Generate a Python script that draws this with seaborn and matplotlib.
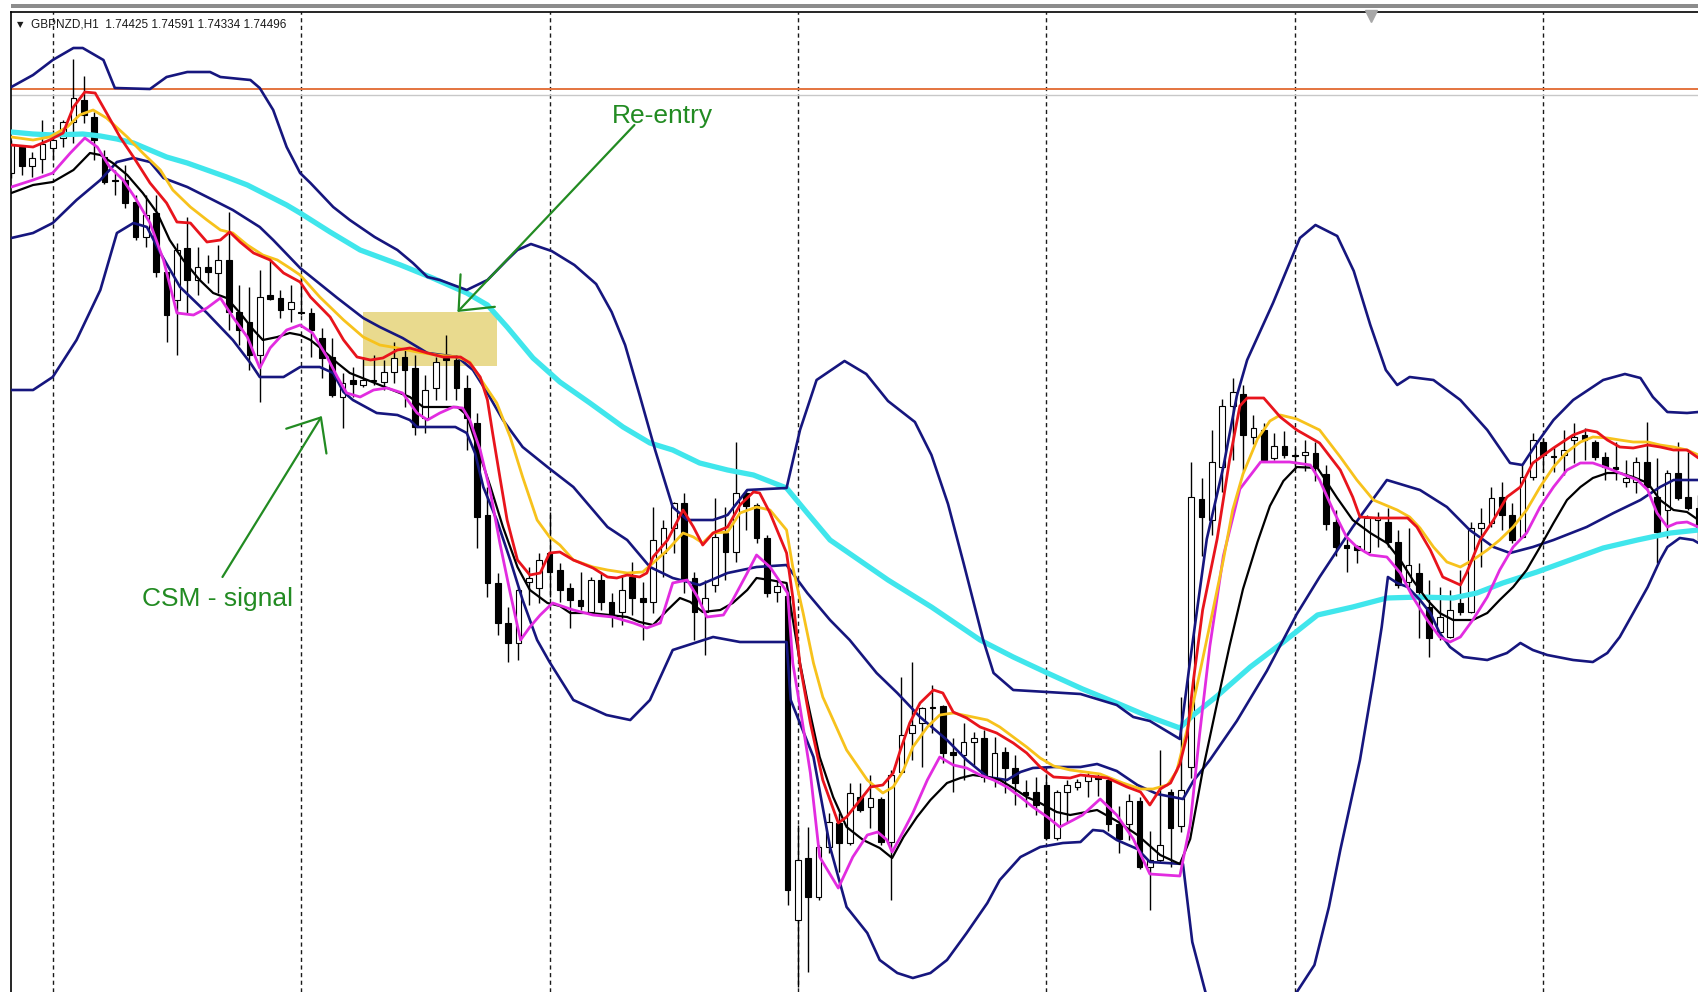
import numpy as np
import pandas as pd
import matplotlib
matplotlib.use("Agg")
import matplotlib.pyplot as plt
from matplotlib.patches import Rectangle
import seaborn as sns

# GBPNZD H1 - levels are read off the chart as points below the top of the
# price scale (bigger number = lower price), so the y axis is inverted.
OPEN = [173, 147, 166, 159, 148, 138, 122, 100, 117, 157,
        180, 180, 202, 237, 213, 272, 300, 248, 280, 267,
        273, 260, 312, 322, 355, 295, 298, 309, 312, 313,
        338, 357, 397, 380, 385, 381, 382, 372, 357, 368,
        418, 388, 358, 360, 388, 423, 515, 583, 623, 643,
        582, 588, 553, 570, 588, 600, 612, 580, 602, 612,
        577, 598, 602, 553, 528, 503, 578, 612, 585, 533,
        552, 493, 505, 538, 592, 596, 920, 858, 897, 847,
        823, 843, 797, 807, 799, 842, 772, 733, 723, 707,
        706, 752, 755, 742, 738, 778, 752, 768, 792, 792,
        785, 838, 792, 787, 781, 776, 780, 824, 824, 801,
        867, 860, 792, 826, 767, 499, 520, 467, 406, 394,
        437, 430, 458, 446, 455, 455, 453, 474, 522, 545,
        546, 552, 520, 522, 542, 582, 573, 607, 632, 637,
        603, 612, 528, 523, 497, 515, 537, 477, 442, 456,
        455, 440, 435, 442, 457, 467, 482, 482, 462, 497,
        510, 473, 497, 508]
HIGH = [140, 145, 152, 120, 130, 120, 59, 76, 112, 150,
        170, 165, 195, 195, 195, 272, 243, 217, 247, 255,
        245, 212, 285, 287, 270, 260, 290, 285, 277, 308,
        328, 338, 373, 367, 357, 355, 360, 342, 350, 355,
        375, 357, 335, 355, 375, 413, 487, 573, 607, 588,
        567, 553, 512, 563, 583, 572, 577, 573, 593, 575,
        562, 582, 507, 520, 502, 493, 572, 580, 498, 507,
        442, 490, 503, 535, 580, 590, 825, 827, 845, 813,
        813, 783, 783, 775, 797, 770, 677, 662, 707, 685,
        705, 738, 723, 732, 730, 737, 747, 755, 780, 777,
        775, 790, 780, 779, 771, 774, 778, 806, 794, 797,
        831, 750, 789, 697, 462, 478, 430, 399, 378, 385,
        415, 423, 433, 431, 447, 440, 442, 465, 510, 537,
        545, 515, 512, 508, 530, 528, 563, 580, 587, 590,
        570, 522, 508, 487, 482, 503, 465, 433, 438, 447,
        430, 423, 428, 440, 452, 442, 460, 457, 422, 458,
        470, 442, 452, 495]
LOW = [178, 175, 177, 173, 160, 147, 143, 123, 160, 184,
       195, 208, 240, 247, 277, 342, 355, 313, 295, 283,
       293, 330, 345, 370, 402, 300, 318, 322, 315, 357,
       378, 397, 428, 397, 387, 385, 390, 383, 407, 435,
       433, 400, 400, 400, 450, 548, 597, 635, 662, 660,
       605, 603, 597, 602, 628, 610, 613, 610, 627, 625,
       615, 640, 613, 577, 553, 593, 640, 655, 592, 580,
       562, 530, 543, 597, 602, 905, 987, 972, 900, 853,
       872, 845, 812, 828, 845, 900, 773, 760, 767, 733,
       763, 792, 780, 765, 782, 787, 793, 805, 807, 815,
       840, 840, 822, 790, 797, 796, 831, 853, 840, 869,
       910, 862, 867, 832, 778, 556, 535, 492, 460, 471,
       444, 462, 460, 458, 468, 471, 481, 530, 556, 572,
       563, 553, 547, 547, 588, 587, 638, 657, 640, 638,
       615, 613, 567, 527, 530, 543, 538, 480, 472, 472,
       475, 463, 460, 460, 480, 480, 487, 493, 490, 563,
       538, 500, 510, 540]
CLOSE = [145, 166, 158, 144, 140, 122, 98, 115, 140, 182,
         181, 203, 237, 215, 272, 315, 250, 280, 267, 272,
         260, 312, 330, 355, 297, 299, 310, 302, 313, 330,
         358, 395, 383, 384, 380, 380, 372, 358, 370, 427,
         390, 362, 360, 388, 418, 517, 583, 623, 643, 590,
         578, 560, 572, 590, 600, 606, 580, 602, 615, 590,
         598, 602, 540, 528, 503, 580, 612, 598, 537, 552,
         493, 506, 538, 593, 586, 890, 860, 897, 847, 822,
         843, 793, 810, 798, 842, 775, 735, 725, 708, 708,
         753, 755, 742, 738, 777, 753, 768, 783, 795, 805,
         838, 792, 785, 782, 776, 779, 824, 839, 801, 867,
         860, 845, 828, 790, 497, 517, 462, 406, 392, 435,
         428, 460, 446, 455, 456, 452, 467, 524, 547, 548,
         550, 518, 518, 542, 585, 565, 592, 638, 617, 610,
         612, 528, 523, 498, 515, 540, 477, 440, 455, 457,
         450, 437, 440, 457, 467, 469, 478, 462, 487, 532,
         473, 498, 508, 530]

# indicator lines: (bar, level)
MA_RED = [(0, 145), (2.1, 147), (3.7, 140), (5.0, 133), (6.0, 107), (7.1, 92), (8.1, 93),
          (9.2, 113), (10.5, 137), (11.8, 157), (13.4, 183), (15.0, 203), (16.0, 222),
          (17.3, 223), (18.9, 242), (20.2, 240), (21.1, 232), (22.1, 242), (23.4, 253),
          (25.0, 260), (26.3, 273), (27.9, 282), (28.9, 297), (30.8, 317), (32.1, 340),
          (33.4, 357), (34.7, 360), (35.9, 358), (37.3, 350), (38.5, 348), (40.2, 353),
          (41.7, 357), (43.4, 357), (44.3, 363), (45.3, 377), (46.0, 400), (46.5, 433),
          (47.2, 477), (47.9, 520), (48.9, 560), (50.1, 575), (51.1, 573), (52.0, 553),
          (53.0, 552), (54.3, 560), (56.2, 568), (57.6, 577), (58.5, 578), (59.5, 575),
          (60.7, 577), (61.4, 573), (62.0, 557), (63.4, 540), (64.9, 510), (65.9, 527),
          (66.8, 545), (67.8, 533), (69.2, 527), (70.4, 505), (71.7, 492), (72.3, 493),
          (73.3, 513), (74.9, 553), (75.5, 597), (76.2, 665), (77.2, 723), (78.4, 780),
          (79.9, 823), (80.7, 817), (82.0, 800), (83.0, 787), (84.2, 785), (85.2, 773),
          (85.9, 750), (86.8, 723), (87.8, 703), (89.1, 690), (90.0, 693), (91.0, 712),
          (92.3, 718), (93.6, 727), (95.2, 733), (96.8, 743), (98.1, 753), (99.4, 767),
          (100.7, 777), (102.3, 778), (103.3, 775), (104.2, 776), (105.9, 778), (107.8, 787),
          (109.1, 792), (110.0, 805), (111.0, 789), (112.0, 783), (112.9, 764), (113.6, 735),
          (114.2, 681), (115.1, 610), (116.5, 539), (117.7, 460), (118.7, 406), (119.4, 398),
          (121.0, 398), (122.6, 417), (124.2, 430), (126.4, 443), (128.4, 470), (129.6, 497),
          (130.3, 517), (131.9, 518), (134.9, 518), (135.8, 527), (137.1, 550), (138.3, 577),
          (140.0, 585), (140.6, 573), (141.9, 540), (143.2, 520), (144.5, 497), (145.8, 487),
          (147.0, 463), (149.0, 448), (150.9, 435), (152.2, 430), (153.2, 432), (154.2, 440),
          (155.4, 447), (156.7, 448), (158.1, 445), (159.3, 447), (160.6, 450), (161.9, 450),
          (163.0, 458)]
MA_GOLD = [(0, 137), (2.1, 140), (3.7, 137), (5.4, 127), (6.6, 115), (7.9, 110), (9.2, 118),
           (11.2, 137), (12.7, 153), (14.4, 170), (15.6, 190), (17.3, 207), (18.9, 220),
           (20.2, 230), (21.4, 233), (22.8, 245), (24.3, 255), (25.7, 260), (26.9, 268),
           (27.9, 275), (29.8, 297), (32.1, 320), (34.0, 337), (35.6, 345), (37.3, 348),
           (39.2, 352), (41.1, 355), (43.1, 357), (44.3, 362), (45.6, 383), (46.9, 403),
           (48.2, 437), (49.4, 477), (50.8, 520), (52.0, 537), (53.0, 545), (54.3, 560),
           (56.2, 567), (57.6, 570), (59.5, 573), (61.0, 572), (62.0, 563), (63.4, 550),
           (64.9, 533), (65.9, 537), (66.8, 543), (67.8, 533), (69.2, 532), (70.4, 513),
           (72.0, 507), (73.3, 510), (74.9, 530), (75.5, 567), (76.5, 613), (77.5, 663),
           (78.4, 697), (79.1, 713), (80.7, 750), (82.7, 780), (84.2, 793), (85.2, 787),
           (86.2, 770), (87.1, 747), (88.5, 727), (89.7, 715), (91.0, 713), (92.9, 717),
           (94.3, 720), (95.5, 727), (96.8, 737), (98.1, 747), (99.4, 758), (100.7, 766),
           (102.3, 770), (105.2, 774), (107.4, 783), (109.1, 789), (110.3, 789), (111.7, 785),
           (112.6, 771), (113.2, 746), (113.9, 717), (114.8, 674), (116.1, 610), (117.1, 560),
           (118.0, 510), (119.0, 474), (120.4, 439), (121.6, 421), (122.6, 415), (124.2, 419),
           (126.4, 430), (128.4, 457), (130.0, 480), (131.6, 500), (133.9, 510), (135.1, 517),
           (136.1, 528), (137.4, 547), (138.7, 562), (140.0, 567), (141.2, 560), (142.6, 550),
           (143.8, 540), (145.1, 527), (146.4, 510), (147.7, 487), (149.0, 467), (150.3, 452),
           (151.6, 442), (152.8, 437), (154.2, 438), (155.4, 440), (156.7, 442), (158.1, 442),
           (159.3, 445), (160.6, 447), (161.9, 450), (163.0, 455)]
MA_MAGENTA = [(0, 187), (2.1, 180), (4.0, 173), (5.7, 153), (7.1, 138), (8.3, 147), (9.5, 167),
              (10.8, 180), (12.1, 200), (13.4, 223), (14.7, 260), (16.0, 313), (17.6, 315),
              (18.9, 308), (20.2, 298), (21.4, 317), (22.8, 337), (24.0, 368), (25.0, 348),
              (26.6, 330), (27.9, 325), (29.1, 333), (30.5, 357), (31.5, 377), (32.4, 393),
              (33.7, 397), (35.0, 390), (36.3, 388), (37.8, 393), (39.2, 413), (40.2, 420),
              (41.4, 413), (42.7, 407), (43.6, 408), (44.3, 420), (45.3, 450), (46.3, 493),
              (47.2, 543), (48.2, 593), (49.2, 640), (50.1, 627), (51.1, 615), (52.3, 603),
              (54.3, 610), (56.2, 615), (58.1, 617), (60.1, 623), (61.4, 628), (62.7, 623),
              (63.9, 583), (65.3, 580), (66.3, 597), (67.2, 617), (68.8, 615), (69.7, 600),
              (71.1, 573), (72.0, 555), (73.3, 567), (74.6, 587), (75.0, 593), (75.5, 663),
              (76.2, 707), (77.2, 773), (78.1, 857), (79.9, 888), (81.3, 857), (82.7, 835),
              (83.7, 832), (84.6, 840), (85.1, 852), (85.9, 837), (87.1, 813), (88.5, 780),
              (89.7, 757), (91.0, 765), (92.3, 768), (93.6, 775), (94.9, 780), (96.2, 787),
              (97.5, 797), (98.7, 807), (100.1, 817), (101.3, 827), (102.6, 820), (103.5, 815),
              (105.2, 799), (106.8, 815), (108.4, 839), (110.0, 874), (112.9, 876), (113.9, 824),
              (114.8, 735), (115.8, 646), (117.1, 556), (118.7, 489), (120.7, 462), (123.5, 462),
              (125.5, 465), (126.4, 480), (127.7, 510), (129.0, 537), (130.0, 547), (131.3, 555),
              (132.9, 557), (134.2, 573), (135.4, 597), (136.8, 620), (138.0, 637), (139.0, 642),
              (140.0, 637), (141.2, 620), (142.6, 597), (143.8, 570), (145.1, 547), (146.4, 533),
              (147.7, 507), (149.0, 487), (150.3, 470), (151.6, 463), (152.8, 463), (154.2, 468),
              (155.4, 473), (157.1, 480), (158.1, 490), (159.0, 513), (160.0, 527), (160.9, 523),
              (161.9, 522), (163.0, 527)]
MA_BLACK = [(0, 193), (2.1, 185), (4.0, 182), (6.0, 170), (7.6, 153), (8.6, 155), (9.8, 163),
            (11.2, 175), (12.7, 193), (14.1, 213), (15.3, 240), (16.6, 260), (18.2, 280),
            (19.5, 293), (20.8, 298), (22.1, 313), (23.4, 330), (24.3, 340), (25.7, 337),
            (26.9, 333), (27.9, 335), (28.9, 340), (30.1, 350), (31.5, 363), (32.7, 373),
            (34.4, 380), (35.6, 385), (37.3, 392), (38.5, 397), (39.8, 407), (41.1, 407),
            (43.1, 407), (44.0, 415), (45.0, 447), (46.3, 487), (47.5, 527), (48.9, 567),
            (50.1, 590), (51.8, 603), (53.0, 606), (54.0, 613), (55.9, 613), (57.8, 615),
            (59.5, 617), (60.7, 622), (62.0, 625), (63.4, 610), (64.6, 598), (65.6, 602),
            (66.8, 612), (68.5, 610), (69.7, 603), (71.1, 590), (72.0, 578), (73.3, 580),
            (74.9, 583), (75.4, 613), (76.2, 663), (76.9, 700), (78.1, 757), (79.4, 797),
            (80.7, 827), (82.3, 840), (83.9, 848), (85.1, 858), (86.2, 837), (87.5, 817),
            (88.8, 800), (90.4, 783), (91.7, 778), (92.9, 775), (94.3, 777), (95.5, 780),
            (96.8, 788), (98.1, 797), (99.4, 803), (101.0, 812), (102.3, 815), (104.9, 810),
            (106.8, 821), (108.8, 835), (111.0, 855), (112.9, 864), (113.9, 839), (115.1, 771),
            (116.5, 703), (117.7, 646), (119.0, 589), (120.4, 542), (121.6, 506), (122.9, 481),
            (124.2, 467), (126.2, 468), (128.1, 498), (129.6, 520), (131.3, 533), (132.9, 543),
            (134.2, 560), (135.4, 580), (136.8, 600), (138.0, 613), (139.3, 620), (141.2, 620),
            (142.6, 613), (143.8, 600), (145.1, 587), (146.4, 570), (147.7, 547), (149.0, 523),
            (150.3, 500), (151.6, 487), (152.8, 478), (154.2, 473), (155.4, 473), (156.7, 477),
            (158.1, 483), (159.3, 500), (160.6, 510), (161.9, 512), (163.0, 520)]
MA_SLOW = [(0, 132), (2.1, 134), (4.0, 135), (6.9, 134), (8.6, 136), (10.2, 139), (11.8, 143),
           (13.4, 150), (15.0, 157), (17.0, 163), (18.9, 170), (20.8, 177), (22.8, 185),
           (24.7, 195), (26.6, 205), (27.9, 213), (30.8, 232), (33.7, 250), (37.6, 265),
           (40.7, 278), (44.0, 293), (46.0, 305), (47.9, 327), (50.4, 358), (53.0, 382),
           (55.9, 403), (59.1, 427), (61.7, 443), (63.9, 450), (66.5, 463), (69.2, 470),
           (71.7, 475), (74.9, 488), (76.9, 513), (79.1, 540), (84.7, 580), (88.9, 607),
           (93.6, 640), (96.8, 657), (100.1, 673), (103.5, 689), (106.8, 703), (110.0, 717),
           (112.9, 728), (114.2, 715), (116.5, 696), (119.7, 667), (122.9, 642), (126.2, 615),
           (129.6, 607), (132.9, 598), (136.1, 597), (139.3, 598), (141.6, 593), (144.1, 583),
           (147.4, 572), (150.6, 560), (153.8, 548), (157.1, 540), (160.3, 533), (163.0, 530)]
BAND_UPPER = [(0, 87), (2.1, 75), (4.0, 60), (6.0, 48), (6.9, 48), (8.9, 60), (10.0, 88),
              (13.4, 89), (15.0, 77), (17.0, 72), (19.2, 72), (20.2, 77), (23.1, 80), (24.0, 88),
              (25.3, 110), (26.6, 147), (27.9, 173), (28.9, 183), (31.1, 207), (32.7, 220),
              (35.1, 237), (37.3, 250), (38.8, 263), (40.2, 277), (41.4, 280), (44.0, 290),
              (46.0, 280), (47.9, 260), (48.9, 250), (50.2, 244), (52.2, 251), (54.4, 265),
              (56.5, 284), (58.0, 312), (59.3, 345), (60.7, 395), (62.2, 450), (63.9, 507),
              (65.3, 520), (67.8, 520), (69.2, 515), (71.1, 490), (74.9, 488), (76.2, 430),
              (77.8, 380), (80.5, 361), (82.6, 374), (84.7, 401), (87.3, 422), (88.9, 455),
              (90.5, 504), (92.0, 563), (93.9, 640), (94.9, 673), (96.8, 690), (100.1, 692),
              (103.3, 694), (106.8, 705), (108.4, 717), (110.0, 721), (112.9, 739), (113.9, 660),
              (115.5, 539), (117.1, 467), (118.4, 396), (119.4, 360), (121.9, 303), (124.5, 238),
              (126.0, 225), (128.1, 236), (129.7, 271), (131.3, 325), (132.8, 370), (133.9, 385),
              (135.1, 377), (137.4, 380), (140.0, 400), (142.6, 430), (144.8, 463), (146.0, 465),
              (147.4, 443), (149.0, 420), (150.9, 400), (153.8, 380), (155.9, 374), (157.4, 378),
              (158.6, 397), (160.0, 412), (161.9, 413), (163.0, 412)]
BAND_MID = [(0, 238), (2.1, 233), (4.0, 223), (6.3, 200), (8.6, 180), (10.2, 162), (11.8, 158),
            (13.4, 162), (14.7, 178), (17.0, 187), (19.5, 200), (21.4, 210), (24.0, 227),
            (25.3, 240), (27.9, 268), (31.5, 298), (34.0, 318), (35.6, 327), (37.8, 338),
            (40.2, 353), (43.1, 357), (44.6, 370), (46.0, 393), (47.5, 420), (49.4, 447),
            (51.8, 467), (54.3, 487), (57.6, 527), (59.5, 540), (61.7, 567), (63.9, 578),
            (66.5, 585), (69.2, 573), (72.0, 567), (74.9, 565), (76.9, 593), (79.1, 620),
            (81.0, 640), (83.6, 673), (85.6, 693), (87.8, 717), (90.4, 740), (92.3, 760),
            (94.3, 777), (96.2, 780), (97.5, 772), (98.7, 768), (100.7, 767), (103.3, 767),
            (104.9, 764), (106.8, 771), (108.8, 785), (110.7, 794), (113.2, 799), (114.2, 781),
            (115.8, 760), (118.4, 721), (121.3, 671), (124.2, 614), (126.4, 577), (129.6, 527),
            (132.9, 480), (136.1, 490), (138.7, 507), (140.9, 530), (143.2, 547), (144.8, 553),
            (147.0, 547), (149.0, 540), (152.2, 527), (154.8, 513), (157.4, 500), (159.3, 487),
            (160.6, 480), (163.0, 480)]
BAND_LOWER = [(0, 390), (2.1, 390), (4.0, 377), (6.3, 340), (8.6, 290), (10.2, 233), (11.8, 223),
              (13.1, 227), (14.4, 253), (16.3, 287), (18.9, 313), (21.4, 340), (23.1, 363),
              (24.0, 377), (26.3, 377), (27.9, 367), (29.8, 367), (31.1, 373), (32.1, 392),
              (33.0, 400), (35.3, 413), (37.3, 415), (38.5, 420), (39.2, 427), (40.2, 427),
              (42.9, 427), (44.0, 433), (44.8, 453), (45.6, 487), (46.9, 520), (48.2, 560),
              (49.4, 600), (50.8, 640), (52.0, 662), (54.3, 700), (57.5, 715), (59.8, 720),
              (61.7, 700), (63.9, 650), (67.8, 637), (70.4, 642), (74.9, 642), (75.3, 700),
              (77.5, 757), (79.1, 847), (80.7, 907), (82.7, 933), (83.9, 960), (85.6, 973),
              (87.1, 978), (88.8, 973), (90.4, 960), (92.3, 933), (94.3, 903), (95.5, 880),
              (97.5, 857), (99.4, 847), (101.6, 843), (103.3, 842), (104.5, 830), (105.5, 831),
              (106.8, 840), (108.8, 849), (110.0, 862), (113.2, 864), (114.1, 942), (115.9, 1013),
              (119.7, 1060), (123.7, 1000), (125.9, 965), (127.3, 907), (128.4, 850), (130.3, 760),
              (131.6, 680), (132.4, 627), (133.0, 577), (133.9, 583), (134.9, 587), (136.1, 600),
              (137.1, 613), (138.0, 633), (139.0, 647), (140.3, 657), (142.6, 660), (144.5, 653),
              (145.8, 643), (147.0, 650), (148.4, 655), (150.9, 660), (152.8, 662), (154.2, 653),
              (155.4, 637), (156.7, 613), (158.1, 587), (159.3, 560), (160.0, 547), (161.2, 538),
              (162.5, 540), (163.0, 543)]

DAY_STARTS = [4, 28, 52, 76, 100, 124, 148]
ASK_LEVEL = 89
BID_LEVEL = 95
ZONE = (34.0, 46.9, 312, 366)   # bar from, bar to, level top, level bottom

GREEN = "#228B22"
NAVY = "#16167E"

sns.set_theme(style="white")
plt.rcParams["font.family"] = ["Liberation Sans", "DejaVu Sans"]

fig = plt.figure(figsize=(16.98, 9.92), dpi=100)
fig.patch.set_facecolor("white")
ax = fig.add_axes([10.5 / 1698, 0, 1 - 10.5 / 1698, 1 - 12 / 992])
ax.set_facecolor("white")

# window frame strip above the chart
fig.add_artist(Rectangle((10.5 / 1698, 1 - 7.5 / 992), 1, 3 / 992,
                         transform=fig.transFigure, color="#8c8c8c", lw=0))

ax.add_patch(Rectangle((ZONE[0], ZONE[2]), ZONE[1] - ZONE[0], ZONE[3] - ZONE[2],
                       facecolor="#E9DA8E", edgecolor="none", zorder=0.5))

for d in DAY_STARTS:
    ax.axvline(d, color="#1a1a1a", lw=1.0, ls=(0, (3, 2.5)), zorder=1)
ax.axhline(ASK_LEVEL, color="#E4743F", lw=1.4, zorder=1)
ax.axhline(BID_LEVEL, color="#c8c8c8", lw=1.0, zorder=1)

# candles
o, h, l, c = (np.array(v, dtype=float) for v in (OPEN, HIGH, LOW, CLOSE))
bars = np.arange(len(o))
ax.vlines(bars, h, l, color="black", lw=1.0, zorder=2)
bull = c < o
body_top = np.minimum(o, c)
body_h = np.maximum(np.abs(c - o), 1.3)
ax.bar(bars, body_h, bottom=body_top, width=0.55,
       color=np.where(bull, "white", "black"), edgecolor="black",
       linewidth=0.8, zorder=2.5)


def draw_line(points, color, lw, z):
    df = pd.DataFrame(points, columns=["bar", "level"])
    sns.lineplot(data=df, x="bar", y="level", color=color, linewidth=lw,
                 sort=False, estimator=None, ax=ax, zorder=z, legend=False)


draw_line(MA_SLOW, "#40E6EC", 3.8, 3)
draw_line(BAND_UPPER, NAVY, 1.9, 3.2)
draw_line(BAND_MID, NAVY, 1.9, 3.2)
draw_line(BAND_LOWER, NAVY, 1.9, 3.2)
draw_line(MA_BLACK, "black", 1.6, 3.4)
draw_line(MA_MAGENTA, "#E22CE0", 2.0, 3.5)
draw_line(MA_GOLD, "#F7C21C", 2.0, 3.6)
draw_line(MA_RED, "#E8141C", 2.0, 3.7)

# annotations
ax.text(58.0, 123, "Re-entry", color=GREEN, fontsize=19, ha="left", va="baseline", zorder=5)
ax.text(12.6, 606, "CSM - signal", color=GREEN, fontsize=19, ha="left", va="baseline", zorder=5)
arrow = dict(arrowstyle="->,head_length=1.0,head_width=0.85", color=GREEN, lw=1.6,
             mutation_scale=20, shrinkA=0, shrinkB=0)
ax.annotate("", xy=(43.1, 312), xytext=(60.2, 125), arrowprops=arrow, zorder=5)
ax.annotate("", xy=(30.0, 416), xytext=(20.4, 577), arrowprops=arrow, zorder=5)

# header
ax.text(0.84, 25, "▼", fontsize=6, color="#1a1a1a", ha="center", va="center",
        family=["DejaVu Sans"], zorder=6)
ax.text(1.9, 25, "GBPNZD,H1  1.74425 1.74591 1.74334 1.74496", fontsize=8.5,
        color="#1a1a1a", ha="left", va="center", zorder=6)
ax.plot([131.4], [16], marker="v", color="#a8a8a8", markersize=8, zorder=6, clip_on=False)

ax.set_xlim(-0.08, 162.96)
ax.set_ylim(992, 12)
ax.set_xticks([])
ax.set_yticks([])
ax.set_xlabel("")
ax.set_ylabel("")
for side in ("right", "bottom"):
    ax.spines[side].set_visible(False)
for side in ("left", "top"):
    ax.spines[side].set_color("black")
    ax.spines[side].set_linewidth(1.2)

fig.savefig("out.png", dpi=100)
